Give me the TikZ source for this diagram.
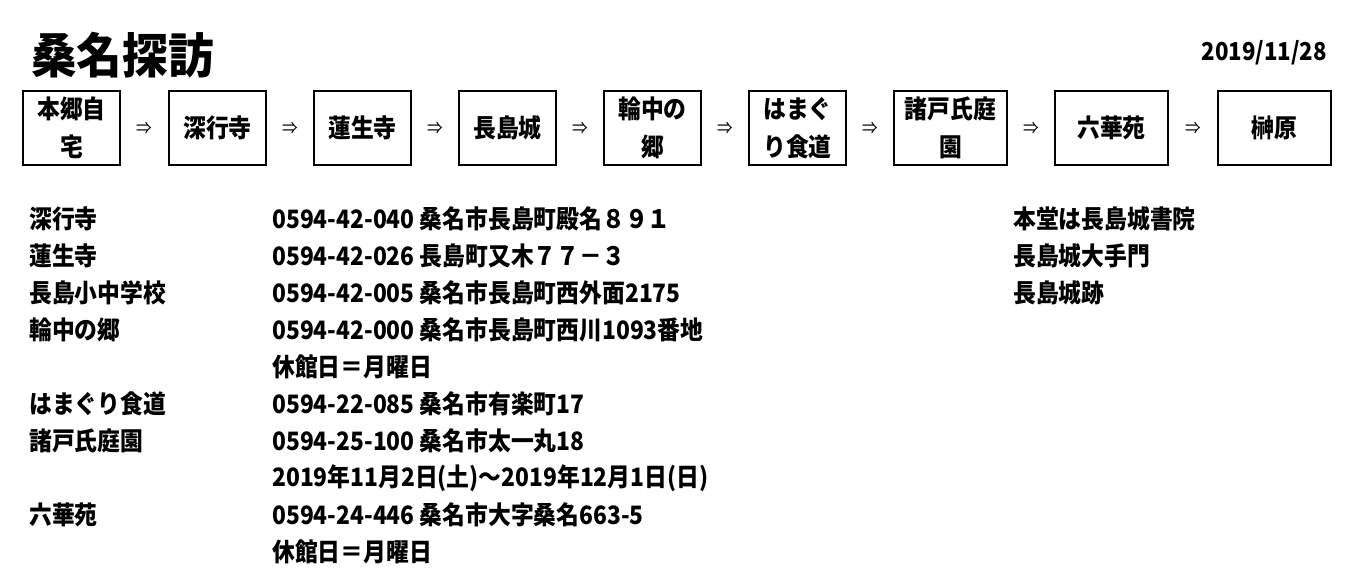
\documentclass[tikz,border=0pt]{standalone}
\usepackage{fontspec}
\setmainfont{Noto Sans CJK JP}[FakeStretch=0.9]
\newfontfamily\titlefont{Noto Sans CJK JP}[FakeStretch=0.95]
\usetikzlibrary{positioning}

\begin{document}
\begin{tikzpicture}[x=0.75pt, y=-0.75pt,
        stop/.style={draw, line width=1.5pt, minimum width=73pt, minimum height=55pt, align=center, inner sep=0pt, font=\bfseries\fontsize{19}{28.5}\selectfont},
        wide/.style={stop, minimum width=85pt},
        then/.style={font=\fontsize{13}{13}\selectfont},
        entry/.style={anchor=west, inner sep=0pt, font=\bfseries\fontsize{19}{19}\selectfont}
    ]
        \useasboundingbox (0,0) rectangle (1347,572);
        \node[anchor=west, inner sep=0pt, font=\titlefont\bfseries\fontsize{36}{36}\selectfont] (title) at (31,55) {桑名探訪};
        \node[anchor=east, inner sep=0pt, font=\bfseries\fontsize{18.5}{18.5}\selectfont] (date) at (1327,53) {2019/11/28};

        % route
        \node[stop] (home) at (71.5,128) {本郷自\\宅};
        \node[stop] (fuka) at (217.5,128) {深行寺};
        \node[stop] (renjo) at (362.5,128) {蓮生寺};
        \node[stop] (castle) at (507.5,128) {長島城};
        \node[stop] (wajyu) at (652.5,128) {輪中の\\郷};
        \node[stop] (hama) at (797.5,128) {はまぐ\\り食道};
        \node[wide] (moroto) at (950.5,128) {諸戸氏庭\\園};
        \node[wide] (rokka) at (1111.5,128) {六華苑};
        \node[wide] (saka) at (1274.5,128) {榊原};

        \path (home) -- node[then] {⇒} (fuka);
        \path (fuka) -- node[then] {⇒} (renjo);
        \path (renjo) -- node[then] {⇒} (castle);
        \path (castle) -- node[then] {⇒} (wajyu);
        \path (wajyu) -- node[then] {⇒} (hama);
        \path (hama) -- node[then] {⇒} (moroto);
        \path (moroto) -- node[then] {⇒} (rokka);
        \path (rokka) -- node[then] {⇒} (saka);

        % address list
        \node[entry] (n1) at (29,219) {深行寺};
        \node[entry] (a1) at (272,219) {0594-42-040 桑名市長島町殿名８９１};
        \node[entry] (c1) at (1013,219) {本堂は長島城書院};
        \node[entry] (n2) at (29,256) {蓮生寺};
        \node[entry] (a2) at (272,256) {0594-42-026 長島町又木７７－３};
        \node[entry] (c2) at (1013,256) {長島城大手門};
        \node[entry] (n3) at (29,293) {長島小中学校};
        \node[entry] (a3) at (272,293) {0594-42-005 桑名市長島町西外面2175};
        \node[entry] (c3) at (1013,293) {長島城跡};
        \node[entry] (n4) at (29,330) {輪中の郷};
        \node[entry] (a4) at (272,330) {0594-42-000 桑名市長島町西川1093番地};
        \node[entry] (h4) at (272,367) {休館日＝月曜日};
        \node[entry] (n5) at (29,404) {はまぐり食道};
        \node[entry] (a5) at (272,404) {0594-22-085 桑名市有楽町17};
        \node[entry] (n6) at (29,441) {諸戸氏庭園};
        \node[entry] (a6) at (272,441) {0594-25-100 桑名市太一丸18};
        \node[entry] (h6) at (272,478) {2019年11月2日(土)～2019年12月1日(日)};
        \node[entry] (n7) at (29,515) {六華苑};
        \node[entry] (a7) at (272,515) {0594-24-446 桑名市大字桑名663-5};
        \node[entry] (h7) at (272,552) {休館日＝月曜日};
    \end{tikzpicture}
\end{document}
